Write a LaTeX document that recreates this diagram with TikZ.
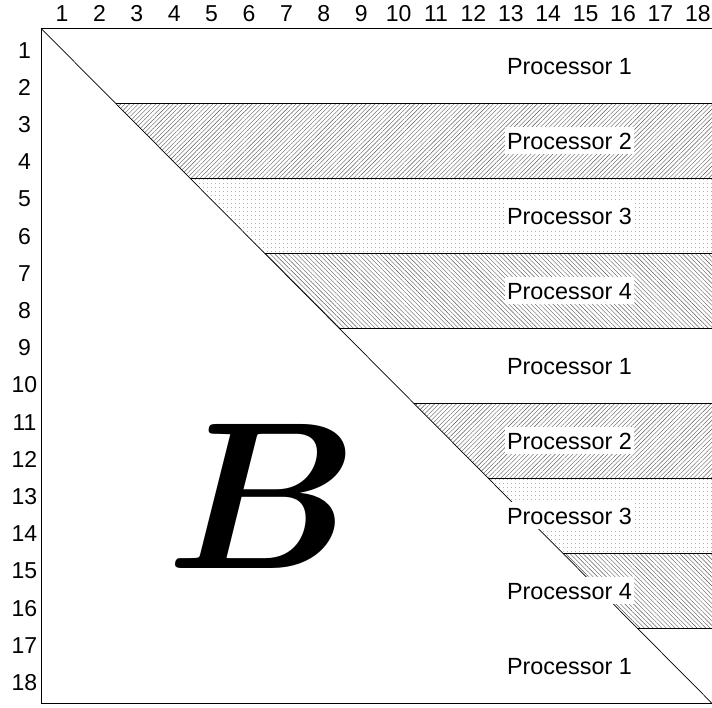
\documentclass[tikz,border=0pt]{standalone}
\usepackage{fontspec}
\usepackage{amsmath}
\setmainfont{Liberation Sans}
\usetikzlibrary{patterns.meta}
\begin{document}
\begin{tikzpicture}[x=1pt,y=-1pt,
  lab/.style={font=\fontsize{23.4}{28}\selectfont, fill=white, inner xsep=2pt, inner ysep=1.5pt, text height=21pt, text depth=3pt, anchor=base},
  num/.style={font=\fontsize{23}{28}\selectfont, inner sep=0pt, anchor=base},
  edge/.style={line width=0.8pt},
  pne/.style={pattern={Lines[angle=45,distance=3.1pt,line width=0.4pt]}, pattern color=black!65},
  pnw/.style={pattern={Lines[angle=-45,distance=3.1pt,line width=0.4pt]}, pattern color=black!65},
  pdt/.style={pattern={Dots[distance=4pt,radius=0.45pt]}, pattern color=black!60}]
\useasboundingbox (0,0) rectangle (712,707);
% bands
\foreach \i/\p in {1/pne,2/pdt,3/pnw,5/pne,6/pdt,7/pnw}{
  \pgfmathsetmacro\ya{28.3+75*\i}
  \pgfmathsetmacro\yb{\ya+75}
  \pgfmathsetmacro\xa{41+(\ya-28.3)*0.99407}
  \pgfmathsetmacro\xb{41+(\yb-28.3)*0.99407}
  \path[\p] (\xa,\ya) -- (712,\ya) -- (712,\yb) -- (\xb,\yb) -- cycle;
}
% separators
\foreach \i in {1,...,8}{
  \pgfmathsetmacro\ya{28.3+75*\i}
  \pgfmathsetmacro\xa{41+(\ya-28.3)*0.99407}
  \draw[edge] (\xa,\ya) -- (712,\ya);
}
% frame and diagonal
\coordinate (tl) at (41,28.3);
\coordinate (tr) at (712,28.3);
\coordinate (bl) at (41,703.3);
\coordinate (br) at (712,703.3);
\draw[edge] (tr) -- (tl) -- (bl) -- (br);
\draw[line width=0.7pt] (tl) -- (br);
% labels
\foreach \i/\n in {0/1,1/2,2/3,3/4,4/1,5/2,6/3,7/4,8/1}{
  \node[lab] (p\i) at (569.5,{28.3+75*\i+46}) {Processor \n};
}
% column and row numbers
\foreach \j in {1,...,18}{
  \node[num] (c\j) at ({62+37.4*(\j-1)},21) {\j};
  \node[num] (r\j) at (24.5,{58+37.2*(\j-1)}) {\j};
}
\node[inner sep=0pt, scale=21] (B) at (262.5,496) {$\boldsymbol{B}$};
\end{tikzpicture}
\end{document}
